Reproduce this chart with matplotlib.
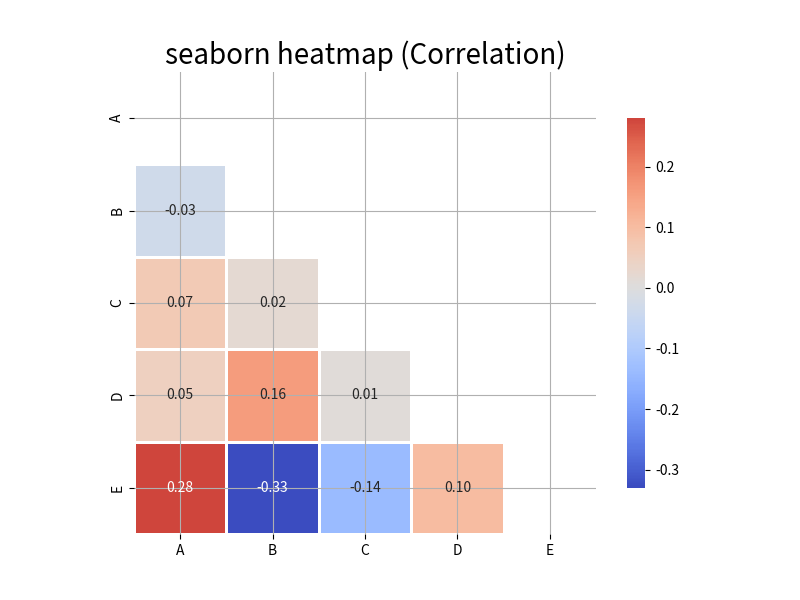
import numpy as np
import pandas as pd
import matplotlib
matplotlib.use("Agg")
import matplotlib.pyplot as plt
import seaborn as sns

plt.rcParams['font.family'] = ['Noto Sans CJK JP', 'DejaVu Sans']
plt.rcParams['axes.grid'] = True
plt.rcParams['axes.unicode_minus'] = False

labels = ["A", "B", "C", "D", "E"]
row_B = [-0.03]
row_C = [0.07, 0.02]
row_D = [0.05, 0.16, 0.01]
row_E = [0.28, -0.33, -0.14, 0.10]

n = len(labels)
corr = np.eye(n)
for i, row in enumerate([row_B, row_C, row_D, row_E], start=1):
    for j, v in enumerate(row):
        corr[i, j] = v
        corr[j, i] = v
df = pd.DataFrame(corr, index=labels, columns=labels)
mask = np.triu(np.ones_like(corr, dtype=bool))

fig, ax = plt.subplots(figsize=(8, 6), dpi=100)
sns.heatmap(df, mask=mask, cmap="coolwarm", center=0, annot=True, fmt=".2f",
            square=True, linewidths=2, linecolor="white",
            cbar_kws={"shrink": 0.8}, ax=ax)
ax.grid(True, color="#b0b0b0", linewidth=0.8)
ax.set_yticklabels(labels, rotation=90, va="center")
ax.set_xticklabels(labels, rotation=0)
ax.set_title("seaborn heatmap (Correlation)", fontsize=20)
fig.savefig("out.png", dpi=100)
